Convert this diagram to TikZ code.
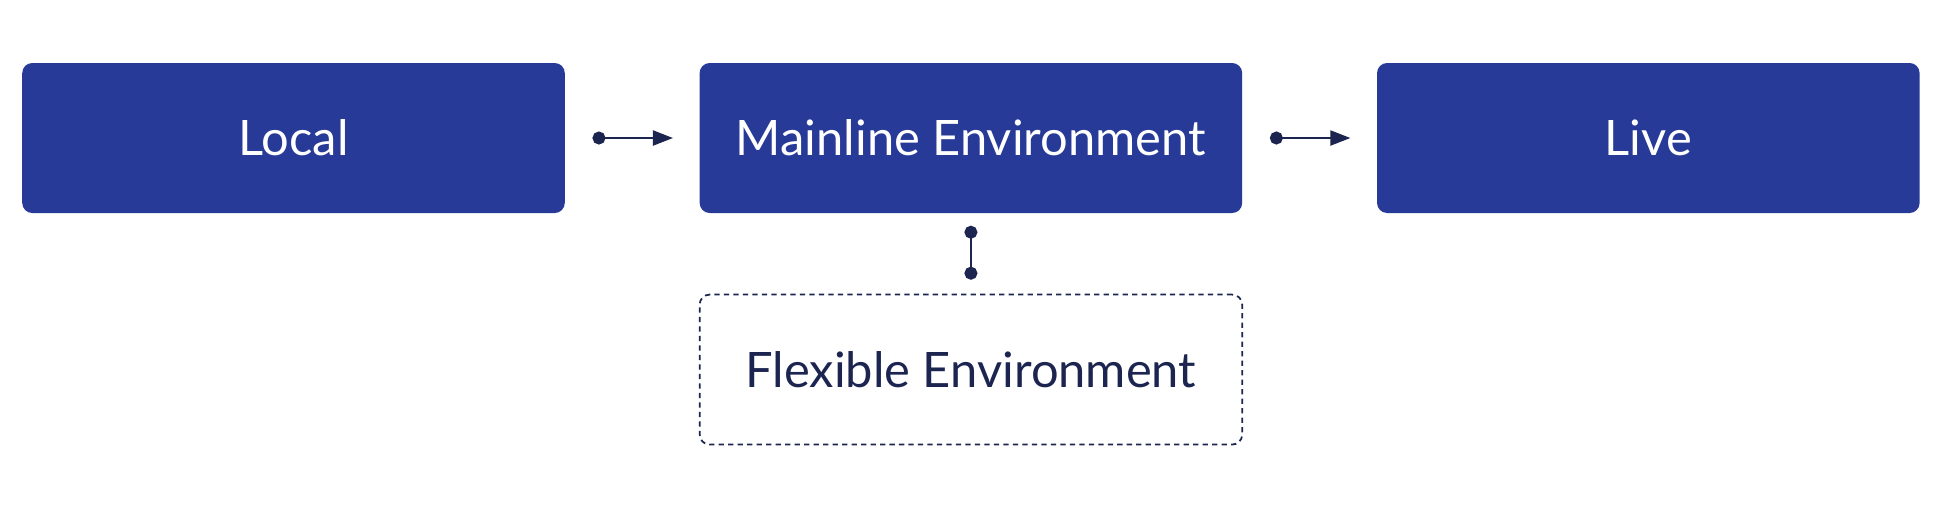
\documentclass[tikz,border=0pt]{standalone}
\usepackage{fontspec}
\setmainfont{Lato}
\usetikzlibrary{positioning,arrows.meta}

\definecolor{envblue}{HTML}{283A97}
\definecolor{envnavy}{HTML}{1C2550}

\begin{document}
\begin{tikzpicture}[node distance = 1.335cm, auto,
    stage/.style={rectangle, rounded corners=0.1cm, fill=envblue, text=white,
      minimum width=5.425cm, minimum height=1.5cm, font=\fontsize{13.9}{16}\selectfont},
    flexbox/.style={stage, fill=none, draw=envnavy, text=envnavy, line width=0.5pt,
      dash pattern=on 1.5pt off 1.2pt},
    link/.style={envnavy, line width=0.6pt, shorten <=0.27cm, shorten >=0.26cm,
      {Circle[length=0.13cm]}-{Triangle[length=0.2cm, width=0.15cm]}},
    tie/.style={envnavy, line width=0.6pt, shorten <=0.12cm, shorten >=0.14cm,
      {Circle[length=0.13cm]}-{Circle[length=0.13cm]}}]
  \useasboundingbox (0,0) rectangle (19.41,-5.13);
  \node[stage] (local) at (2.935,-1.38) {Local};
  \node[stage, right=of local] (mainline) {Mainline Environment};
  \node[stage, right=of mainline] (live) {Live};
  \node[flexbox, below=0.8cm of mainline] (flexible) {Flexible Environment};
  % connectors
  \draw[link] (local) -- (mainline);
  \draw[link] (mainline) -- (live);
  \draw[tie] (mainline) -- (flexible);
\end{tikzpicture}
\end{document}
